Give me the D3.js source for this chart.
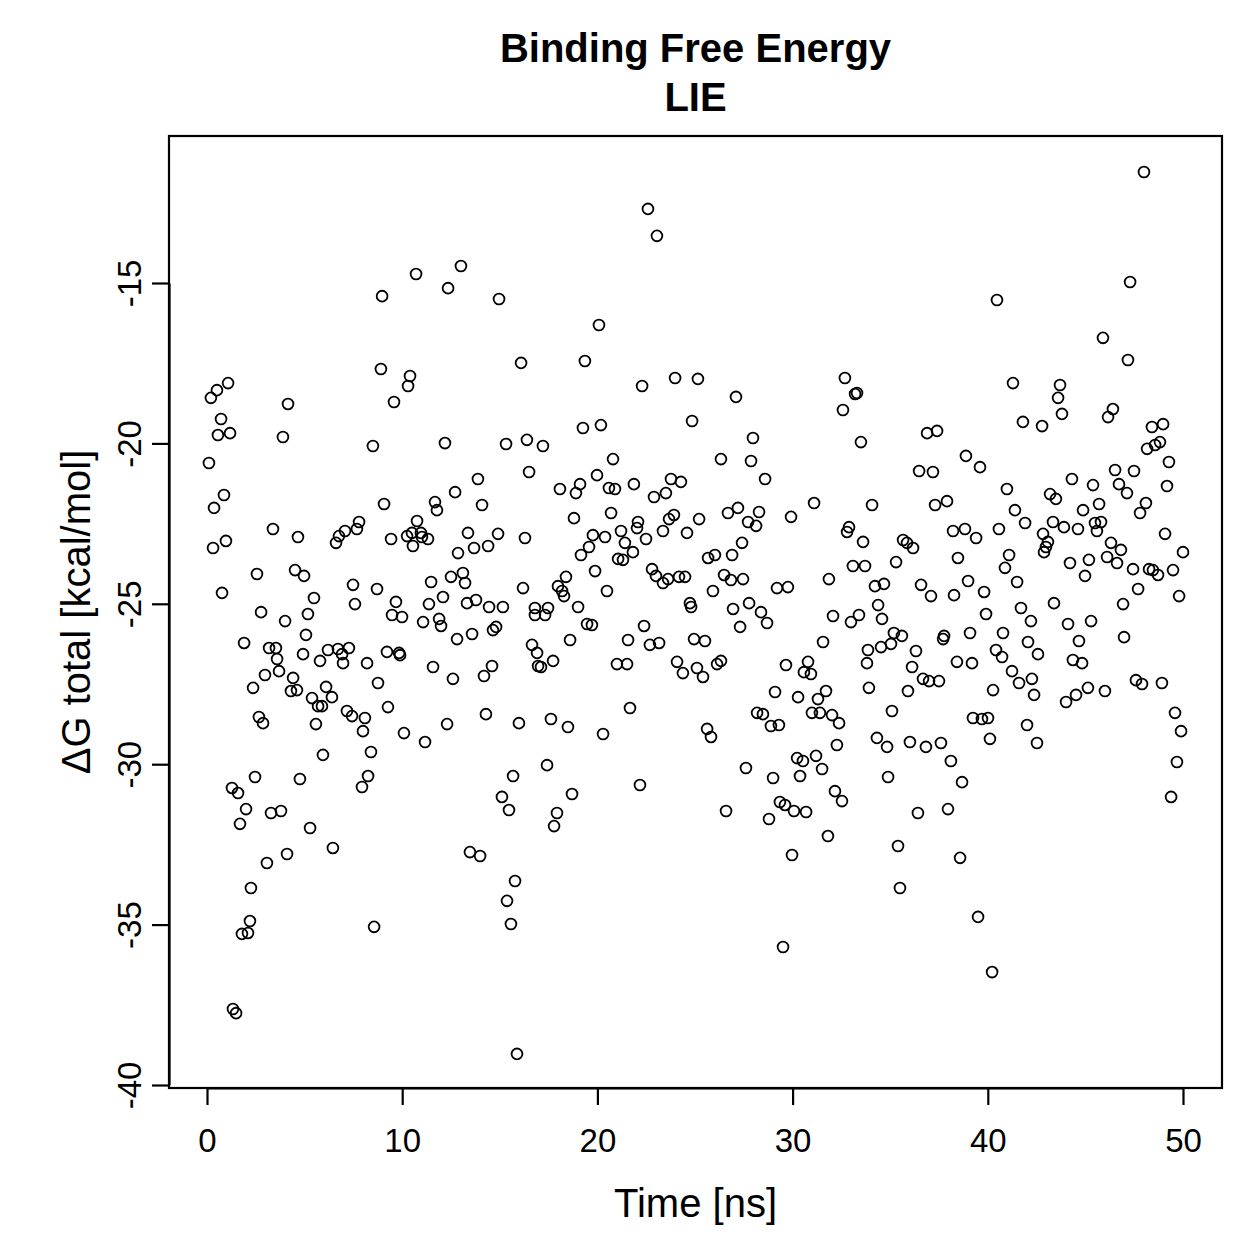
<!DOCTYPE html>
<html>
<head>
<meta charset="utf-8">
<script src="https://cdn.jsdelivr.net/npm/d3@7"></script>
<style>
  body { margin: 0; background: #fff; }
  text { font-family: "Liberation Sans", Arial, Helvetica, sans-serif; }
</style>
</head>
<body>
<script>
// chart text
var titleLines = ["Binding Free Energy", "LIE"];
var xLabel = "Time [ns]";
var yLabel = "\u0394G total [kcal/mol]";
var xTicks = [0, 10, 20, 30, 40, 50];
var yTicks = [-40, -35, -30, -25, -20, -15];

// time of each frame [ns]
var timeNs = [
  1.08,0.51,0.20,4.15,0.72,0.56,1.18,3.89,0.10,0.87,
  0.36,3.38,4.66,7.07,6.76,6.61,7.68,7.79,0.31,0.97,
  2.56,4.51,4.97,0.77,5.48,7.48,7.58,2.77,4.00,5.17,
  5.07,1.90,3.18,3.53,3.59,4.92,5.79,6.20,6.71,6.92,
  6.97,7.27,2.97,3.69,4.41,2.36,4.30,4.61,5.38,6.10,
  6.40,5.69,5.89,7.17,7.43,2.66,2.87,5.58,5.94,2.46,
  1.28,1.59,4.76,2.00,3.28,3.79,1.69,5.28,6.45,4.10,
  3.07,2.25,2.20,1.79,2.10,1.33,1.49,
  13.01,10.71,12.35,8.97,14.96,8.91,10.40,10.30,9.58,16.09,
  8.50,12.19,15.32,16.39,16.50,13.88,12.71,9.07,11.68,11.78,
  14.09,10.76,9.43,10.25,10.50,10.96,11.01,11.32,10.55,13.37,
  12.86,13.68,14.40,14.91,16.29,11.48,12.50,13.11,13.22,8.71,
  16.19,9.68,11.37,12.09,13.32,13.78,14.45,15.16,
  9.48,9.99,11.07,11.89,11.99,12.81,13.58,14.65,14.81,9.22,
  9.84,9.89,8.20,11.58,12.60,14.19,14.60,8.76,9.27,8.09,
  7.99,10.09,11.17,12.30,14.29,15.98,8.40,8.25,7.94,15.68,
  15.11,15.47,13.47,13.99,15.78,15.37,15.57,8.56,15.88,
  22.59,23.05,20.08,19.36,22.29,23.98,25.15,24.85,19.26,20.18,
  17.21,20.80,18.08,18.90,19.11,19.98,20.59,20.90,21.87,22.90,
  23.51,23.77,24.28,18.80,20.70,22.08,22.03,23.67,23.92,23.36,
  24.59,25.21,19.77,20.39,21.21,22.49,19.57,19.16,21.41,21.82,
  21.06,21.31,19.88,22.80,23.00,23.36,23.62,24.18,24.49,18.39,
  17.98,18.19,18.29,20.49,
  19.01,16.80,17.47,16.80,17.32,19.47,19.72,18.60,21.57,22.39,
  22.69,23.16,24.74,24.80,24.95,16.65,16.91,17.73,16.96,17.11,
  21.00,21.52,24.08,24.38,25.10,21.67,17.62,18.49,20.29,17.42,
  18.70,22.18,17.93,17.78,
  27.10,32.68,33.20,33.30,32.58,27.97,33.50,26.33,27.87,28.59,
  31.10,26.69,27.20,28.28,27.72,28.13,29.92,32.89,32.79,33.61,
  27.41,25.67,26.02,26.90,26.49,26.84,27.46,25.92,29.20,29.76,
  31.86,33.09,33.71,
  27.77,26.95,28.38,27.31,28.69,32.07,32.99,33.40,31.56,25.51,
  33.86,33.81,33.91,26.33,26.13,25.41,29.66,30.79,30.58,30.94,
  29.10,30.28,31.30,31.71,28.18,28.48,28.89,29.30,30.99,31.40,
  32.02,32.38,25.62,25.82,32.27,30.23,30.53,31.20,31.51,27.61,
  29.00,30.38,32.17,32.53,26.59,29.35,29.61,30.07,30.69,28.79,
  31.81,29.97,29.51,
  40.47,41.29,41.80,36.89,37.40,38.88,39.60,36.48,37.19,40.98,
  34.07,37.30,37.91,41.39,41.91,38.22,38.83,39.40,40.57,35.66,
  35.86,36.17,35.30,38.47,41.09,40.88,34.22,34.68,36.58,37.09,
  38.27,38.99,39.81,41.50,
  34.38,34.58,39.91,41.70,42.21,35.19,35.60,34.53,35.04,36.32,
  36.12,37.76,37.71,39.09,40.78,42.06,42.57,40.42,40.73,38.42,
  39.19,41.24,41.60,42.26,42.37,36.68,36.99,37.50,35.91,40.27,
  35.09,39.24,39.70,40.01,42.01,40.11,42.52,34.32,34.84,36.01,
  36.83,37.60,38.11,38.68,34.89,36.42,37.96,35.40,38.58,35.50,
  39.50,40.22,
  48.00,47.29,45.90,47.18,43.70,43.60,43.80,42.78,46.41,46.16,
  48.41,48.98,48.16,48.57,48.82,49.28,49.18,46.52,47.49,44.31,
  45.39,46.72,47.13,43.19,43.49,45.70,44.88,48.10,47.80,43.34,
  43.90,44.62,45.49,45.80,45.59,49.08,42.83,43.08,42.98,42.88,
  46.31,46.82,46.11,46.62,45.18,44.21,44.98,47.44,48.26,48.46,
  48.72,49.49,50.00,47.70,49.80,
  43.39,46.93,44.11,45.29,44.67,46.98,44.36,44.83,44.01,44.52,
  45.13,46.00,47.59,47.90,48.92,49.59,49.90,49.69,49.39
];

// dG total [kcal/mol] for the same frames
var dGTotal = [
  -18.12,-18.34,-18.58,-18.77,-19.24,-19.74,-19.68,-19.80,-20.61,-21.61,
  -22.01,-22.67,-22.92,-22.73,-22.89,-23.10,-22.67,-22.45,-23.26,-23.04,
  -24.07,-23.95,-24.13,-24.66,-24.82,-24.41,-25.01,-25.26,-25.54,-25.32,
  -25.97,-26.22,-26.38,-26.38,-26.72,-26.57,-26.78,-26.44,-26.41,-26.57,
  -26.85,-26.38,-27.22,-27.10,-27.31,-27.62,-27.72,-27.69,-27.94,-27.59,
  -27.91,-28.19,-28.19,-28.34,-28.50,-28.53,-28.72,-28.75,-29.71,-30.40,
  -30.74,-30.90,-30.46,-31.40,-31.52,-31.46,-31.86,-31.99,-32.61,-32.80,
  -33.08,-33.86,-34.89,-35.29,-35.26,-37.63,-37.76,
  -14.47,-14.72,-15.16,-15.41,-15.50,-17.68,-17.90,-18.21,-18.71,-17.49,
  -20.08,-19.99,-20.02,-19.89,-20.89,-21.11,-21.52,-21.89,-21.83,-22.08,
  -21.92,-22.42,-22.98,-22.89,-22.79,-22.79,-22.92,-22.98,-23.20,-22.79,
  -23.42,-23.26,-23.20,-22.82,-22.95,-24.32,-24.16,-24.04,-24.35,-24.54,
  -24.51,-24.94,-25.01,-24.79,-24.98,-24.88,-25.10,-25.10,
  -25.35,-25.41,-25.57,-25.47,-25.69,-26.10,-25.94,-25.82,-25.72,-26.50,
  -26.53,-26.60,-26.85,-26.97,-27.34,-27.25,-26.94,-27.47,-28.22,-28.56,
  -28.97,-29.03,-29.31,-28.75,-28.44,-28.72,-29.62,-30.37,-30.71,-30.37,
  -31.02,-31.43,-32.74,-32.86,-33.64,-34.26,-34.98,-35.07,-39.03,
  -12.69,-13.53,-16.31,-17.43,-18.21,-17.96,-17.99,-19.30,-19.52,-19.43,
  -20.08,-20.49,-21.42,-21.55,-21.27,-20.99,-21.39,-21.42,-21.27,-21.67,
  -21.55,-21.11,-21.20,-22.33,-22.17,-22.45,-22.64,-22.36,-22.23,-22.73,
  -22.79,-22.36,-22.86,-22.92,-22.73,-22.98,-23.23,-23.48,-23.10,-23.39,
  -23.60,-23.63,-23.98,-23.92,-24.13,-24.35,-24.23,-24.16,-24.16,-24.16,
  -24.45,-24.60,-24.76,-24.60,
  -25.10,-25.13,-25.13,-25.35,-25.35,-25.63,-25.66,-26.13,-26.13,-25.69,
  -26.28,-26.22,-24.98,-25.10,-26.10,-26.28,-26.53,-26.78,-26.94,-26.97,
  -26.88,-26.88,-26.81,-27.16,-27.00,-28.25,-28.59,-28.84,-29.06,-30.03,
  -30.93,-30.65,-31.52,-31.93,
  -18.55,-17.96,-18.46,-18.43,-18.96,-19.83,-19.96,-20.49,-20.55,-21.11,
  -21.86,-22.17,-22.01,-22.14,-22.45,-22.57,-22.29,-22.61,-22.76,-23.07,
  -23.10,-23.57,-23.48,-23.48,-24.10,-24.26,-24.23,-24.60,-24.51,-24.48,
  -24.23,-23.82,-23.82,
  -24.98,-25.16,-25.26,-25.72,-25.60,-25.38,-25.57,-25.35,-26.19,-26.16,
  -26.44,-26.85,-27.62,-26.78,-26.88,-27.28,-26.91,-26.81,-27.13,-27.19,
  -27.75,-27.91,-27.97,-27.72,-28.40,-28.44,-28.81,-28.78,-28.40,-28.40,
  -28.47,-28.72,-28.90,-29.15,-29.40,-29.81,-29.90,-29.74,-30.15,-30.12,
  -30.43,-30.37,-30.84,-31.15,-31.46,-31.18,-31.27,-31.46,-31.49,-31.71,
  -32.24,-32.83,-35.70,
  -15.53,-18.12,-19.33,-19.68,-19.61,-20.39,-20.74,-20.86,-20.89,-21.42,
  -21.92,-21.92,-21.80,-22.08,-22.48,-22.73,-22.67,-22.95,-22.67,-23.01,
  -23.10,-23.26,-23.70,-23.57,-23.48,-23.88,-24.45,-24.38,-24.41,-24.76,
  -24.73,-24.29,-24.63,-24.32,
  -25.04,-25.47,-25.32,-25.13,-25.54,-25.91,-26.00,-26.35,-26.25,-26.47,
  -26.97,-26.00,-26.10,-25.91,-25.91,-26.19,-26.57,-26.44,-26.66,-26.81,
  -26.85,-27.10,-27.47,-27.34,-27.84,-27.34,-27.41,-27.41,-27.72,-27.69,
  -28.34,-28.56,-28.59,-28.56,-28.78,-29.21,-29.34,-29.18,-29.46,-29.31,
  -29.46,-29.34,-29.90,-30.56,-30.40,-31.52,-31.40,-32.55,-32.92,-33.86,
  -34.76,-36.48,
  -11.54,-14.97,-16.71,-17.40,-18.18,-18.58,-19.08,-19.46,-18.93,-19.18,
  -19.49,-19.40,-20.17,-20.05,-19.96,-20.58,-21.33,-20.83,-20.86,-21.11,
  -21.30,-21.27,-21.55,-21.58,-21.73,-21.89,-22.08,-21.86,-22.17,-22.45,
  -22.61,-22.67,-22.48,-22.45,-22.73,-22.82,-22.82,-23.07,-23.23,-23.39,
  -23.10,-23.32,-23.54,-23.73,-23.63,-23.73,-24.13,-23.92,-23.92,-23.95,
  -24.10,-23.95,-23.39,-24.54,-24.76,
  -24.98,-25.01,-25.63,-25.54,-26.16,-26.04,-26.75,-26.85,-28.06,-27.84,
  -27.62,-27.72,-27.38,-27.50,-27.47,-28.40,-28.97,-29.93,-31.02
];

var points = timeNs.map(function(t, i) { return { t: t, g: dGTotal[i] }; });
console.log(timeNs.length, dGTotal.length);

// plot region (R style box)
var width = 1259, height = 1259;
var box = { left: 169, right: 1222, top: 136, bottom: 1088 };

var x = d3.scaleLinear().domain([0, 50]).range([207, 1183]);
var y = d3.scaleLinear().domain([-40, -15]).range([1085, 283]);

var svg = d3.select("body").append("svg")
	.attr("width", width)
	.attr("height", height)
	.style("background", "#fff");

// title, two lines
svg.selectAll(".title")
	.data(titleLines)
	.enter()
	.append("text")
		.attr("class", "title")
		.attr("x", (box.left + box.right) / 2)
		.attr("y", function(d, i) { return 62 + i * 49; })
		.attr("text-anchor", "middle")
		.style("font-size", "40px")
		.style("font-weight", "bold")
		.text(function(d) { return d; });

// points
svg.append("g")
	.selectAll("circle")
	.data(points)
	.enter()
	.append("circle")
		.attr("cx", function(d) { return x(d.t); })
		.attr("cy", function(d) { return y(d.g); })
		.attr("r", 5.4)
		.attr("fill", "none")
		.attr("stroke", "#000")
		.attr("stroke-width", 1.8);

// box
svg.append("rect")
	.attr("x", box.left)
	.attr("y", box.top)
	.attr("width", box.right - box.left)
	.attr("height", box.bottom - box.top)
	.attr("fill", "none")
	.attr("stroke", "#000")
	.attr("stroke-width", 2.2);

// x axis
var xAxis = svg.append("g")
	.attr("transform", "translate(0," + box.bottom + ")")
	.call(d3.axisBottom(x).tickValues(xTicks).tickSize(17).tickSizeOuter(0));
xAxis.selectAll("text")
	.attr("y", 64)
	.attr("dy", null)
	.attr("fill", "#000")
	.style("font-size", "33px")
	.text(function(d) { return d; });

// y axis, labels turned like R's las=0
var yAxis = svg.append("g")
	.attr("transform", "translate(" + box.left + ",0)")
	.call(d3.axisLeft(y).tickValues(yTicks).tickSize(17).tickSizeOuter(0));
yAxis.selectAll("text")
	.attr("x", null)
	.attr("dy", null)
	.attr("text-anchor", "middle")
	.attr("transform", "translate(-28,0) rotate(-90)")
	.attr("fill", "#000")
	.style("font-size", "33px")
	.text(function(d) { return d; });

svg.selectAll(".domain, .tick line")
	.attr("stroke", "#000")
	.attr("stroke-width", 2.2);

// axis titles
svg.append("text")
	.attr("x", (box.left + box.right) / 2)
	.attr("y", 1217)
	.attr("text-anchor", "middle")
	.style("font-size", "40px")
	.text(xLabel);

svg.append("text")
	.attr("transform", "translate(90," + (box.top + box.bottom) / 2 + ") rotate(-90)")
	.attr("text-anchor", "middle")
	.style("font-size", "40px")
	.text(yLabel);
</script>
</body>
</html>
